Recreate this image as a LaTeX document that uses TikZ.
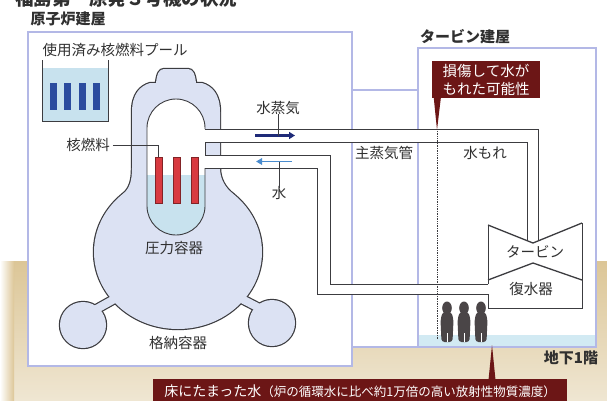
\documentclass[tikz,border=0pt]{standalone}
\usepackage{fontspec}
\setmainfont{Noto Sans CJK JP}
\usetikzlibrary{arrows.meta}

\definecolor{wall}{HTML}{B3B8E6}
\definecolor{vessel}{HTML}{DCE2F3}
\definecolor{outline}{HTML}{3C3C40}
\definecolor{coolant}{HTML}{C8E2EE}
\definecolor{fuel}{HTML}{D83A40}
\definecolor{poolrod}{HTML}{2B4C9E}
\definecolor{steam}{HTML}{1E2A78}
\definecolor{feed}{HTML}{4A8CCF}
\definecolor{callout}{HTML}{6C1616}
\definecolor{groundtop}{HTML}{DCC697}
\definecolor{groundbot}{HTML}{EFE6D2}
\definecolor{label}{HTML}{303030}
\definecolor{worker}{HTML}{4A4547}
\definecolor{basewater}{HTML}{D2EAF3}

\tikzset{
  wallline/.style={draw=wall, line width=2pt},
  pipe/.style={draw=outline, line width=0.9pt},
  vline/.style={draw=outline, line width=1.3pt},
  lbl/.style={font=\fontsize{14.5}{17}\selectfont, text=label, inner sep=0pt},
  bldlbl/.style={font=\fontsize{15}{17}\selectfont\bfseries, text=label, inner sep=0pt},
  note/.style={font=\fontsize{14.5}{18}\selectfont, text=white, align=center, inner sep=0pt, fill=callout},
  leader/.style={draw=outline, line width=0.5pt},
}

% containment: neck, bulb, torus and the two short links
\newcommand\pcvshape[1]{%
  \path[#1] (132,168) -- (132,112) .. controls (132,94) and (140,86) .. (150,83)
    -- (156,83) .. controls (157,74) and (159,69) .. (164,69) -- (188,69)
    .. controls (193,69) and (195,74) .. (196,83) -- (202,83)
    .. controls (212,86) and (220,94) .. (220,112) -- (220,168)
    .. controls (220,180) and (226,188) .. (233,194) -- (178,240) -- (123,194)
    .. controls (130,188) and (132,180) .. (132,168) -- cycle;
  \path[#1] (178,252) ellipse [x radius=84, y radius=77];
  \path[#1] (83,325) circle [radius=23];
  \path[#1] (272,323) circle [radius=23];
  \path[#1] (120,300.5) -- (116,293.5) -- (91,307.5) -- (95,314.5) -- cycle;
  \path[#1] (236,300.5) -- (240,293.5) -- (265,306.5) -- (261,313.5) -- cycle;
}

\newcommand\rpvpath{(147,128) .. controls (147,112) and (160,99) .. (176,99)
  .. controls (192,99) and (205,112) .. (205,128) -- (205,206)
  .. controls (205,222) and (192,235) .. (176,235)
  .. controls (160,235) and (147,222) .. (147,206) -- cycle}

\begin{document}
\begin{tikzpicture}[x=1pt, y=-1pt]
\useasboundingbox (0,0) rectangle (607,400);

% ground
\shade[top color=groundtop, bottom color=groundbot] (0,261) rectangle (607,400);
\shade[left color=white, right color=groundtop] (0,261) rectangle (14,400);

% buildings
\fill[white] (28,32) rectangle (352,366);
\fill[white] (352,90) rectangle (418,347);
\fill[white] (418,48) rectangle (596,347);
\fill[basewater] (418,335) rectangle (596,347);
\begin{scope}[wallline]
\draw (28,32) rectangle (352,366);
\draw (352,90) -- (418,90);
\draw (352,347) -- (418,347);
\draw (418,48) rectangle (596,347);
\end{scope}

% spent fuel pool
\fill[coolant] (42,68) rectangle (108,121);
\draw[pipe] (42,60) -- (42,121) -- (108,121) -- (108,60);
\foreach \x in {53.5,67.8,82.1,96.4}
  \fill[poolrod] (\x-3.5,83) rectangle (\x+3.5,110);

% containment vessel
\pcvshape{draw=outline, line width=2.4pt}
\pcvshape{fill=vessel}

% pressure vessel
\fill[white] \rpvpath;
\begin{scope}
\clip \rpvpath;
\fill[coolant] (140,175) rectangle (212,240);
\end{scope}
\draw[pipe] (205,129) -- (205,128) .. controls (205,112) and (192,99) .. (176,99)
  .. controls (160,99) and (147,112) .. (147,128) -- (147,206)
  .. controls (147,222) and (160,235) .. (176,235)
  .. controls (192,235) and (205,222) .. (205,206) -- (205,168);
\draw[pipe] (205,142) -- (205,155);

\foreach \x [count=\i] in {158.5,176.5,194.5}
  \filldraw[fill=fuel, draw=fuel!60!black, line width=0.4pt] (\x-3.5,157) rectangle (\x+3.5,203) coordinate (rod\i);
\coordinate (rodtop) at (158.5,157);

% main steam line
\fill[white] (205,129) -- (538,129) -- (538,241) -- (527,241) -- (527,142) -- (205,142) -- cycle;
\draw[pipe] (205,129) -- (538,129) -- (538,241);
\draw[pipe] (205,142) -- (527,142) -- (527,241);

% feedwater line
\fill[white] (205,155) -- (330,155) -- (330,284) -- (488,284) -- (488,294) -- (317,294) -- (317,168) -- (205,168) -- cycle;
\draw[pipe] (205,155) -- (330,155) -- (330,284) -- (488,284);
\draw[pipe] (205,168) -- (317,168) -- (317,294) -- (488,294);

% turbine and condenser
\fill[white] (488,225) -- (533,243) -- (582,223) -- (582,308) -- (488,308) -- cycle;
\draw[pipe] (488,284) -- (488,225);
\draw[pipe] (582,223) -- (582,308) -- (488,308) -- (488,294);
\draw[vline] (488,225) -- (533,243) -- (582,223);
\draw[vline] (488,280) -- (533,263) -- (582,280);

% flow arrows
\draw[steam, line width=2.5pt, -{Triangle[length=6pt, width=7pt]}] (255,135.5) -- (295,135.5);
\draw[feed, line width=1.8pt, -{Triangle[length=6pt, width=6.5pt]}] (292,161.5) -- (256,161.5);
\coordinate (steamarrow) at (278,135.5);
\coordinate (feedarrow) at (279,161.5);

% leak path and workers
\draw[outline, densely dotted, line width=0.7pt] (437,131) -- (437,340);
\foreach \x in {447,464,481} {
  \fill[worker] (\x,308) ellipse [x radius=4.8, y radius=6.5];
  \fill[worker, rounded corners=3pt] (\x-5.5,342) -- (\x-6.5,320) -- (\x-4.5,312) -- (\x+4.5,312) -- (\x+6.5,320) -- (\x+5.5,342) -- cycle;
  \draw[white, line width=0.6pt] (\x,333) -- (\x,342);
}

% callouts
\node[note, minimum width=108pt, minimum height=37pt] (leakbox) at (486,79.5) {損傷して水が\\もれた可能性};
\coordinate (leaktip) at (437,130);
\fill[callout] ([xshift=2pt]leakbox.south west) -- ++(7,0) -- (leaktip) -- cycle;

\node[note, minimum width=414pt, minimum height=24pt, anchor=north west] (floorbox) at (153,379)
  {\fontsize{14}{16}\selectfont 床にたまった水\fontsize{12.5}{15}\selectfont（炉の循環水に比べ約1万倍の高い放射性物質濃度）};
\coordinate (floortip) at (492,345);
\fill[callout] (488.5,380) -- (495.5,380) -- (floortip) -- cycle;

% labels
\node[bldlbl, font=\fontsize{18.5}{20}\selectfont\bfseries, anchor=base west] (title) at (15,5) {福島第一原発３号機の状況};
\node[bldlbl] (rblbl) at (68,19) {原子炉建屋};
\node[bldlbl] (tblbl) at (465,37) {タービン建屋};
\node[bldlbl] (b1lbl) at (571,358) {地下1階};
\node[lbl] (poollbl) at (115,50) {使用済み核燃料プール};
\node[lbl] (fuellbl) at (88,145) {核燃料};
\node[lbl] (rpvlbl) at (174,248) {圧力容器};
\node[lbl] (pcvlbl) at (178,343) {格納容器};
\node[lbl] (steamlbl) at (278,108) {水蒸気};
\node[lbl] (feedlbl) at (279,193) {水};
\node[lbl] (msllbl) at (384,153) {主蒸気管};
\node[lbl] (leaklbl) at (485,153) {水もれ};
\node[lbl] (turblbl) at (535,252) {タービン};
\node[lbl] (condlbl) at (531,289) {復水器};

\draw[leader] (fuellbl.east) ++(3,0) -| (rodtop);
\draw[leader] (steamlbl.south) ++(0,-1) -- (steamarrow);
\draw[leader] (feedarrow) -- ([yshift=-2pt]feedlbl.north);

\end{tikzpicture}
\end{document}
